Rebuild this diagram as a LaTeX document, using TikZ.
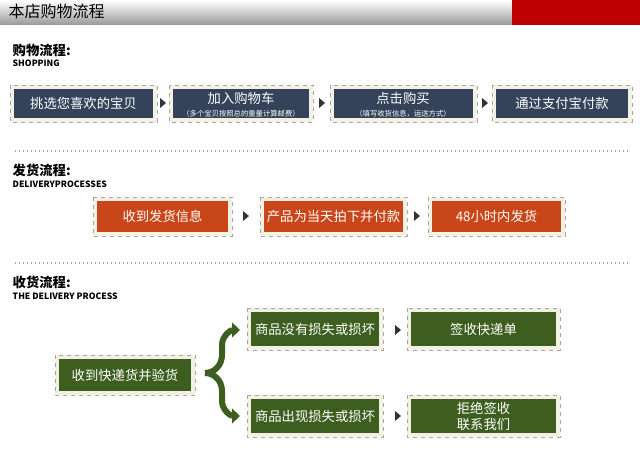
\documentclass[tikz,border=0pt]{standalone}
\usepackage{fontspec}
\setmainfont{Noto Sans CJK SC}
\usetikzlibrary{arrows.meta,calc}
\definecolor{slate}{HTML}{34435A}
\definecolor{orng}{HTML}{C8461A}
\definecolor{grn}{HTML}{3D5E1E}
\definecolor{frm}{HTML}{F3F1E4}
\tikzset{
 outer/.style={fill=frm,draw=gray!70,dashed,line width=0.6pt},
 tri/.style={fill=black!80,draw=none},
 boxtxt/.style={text=white,align=center,font=\fontsize{10}{12}\selectfont},
 head/.style={anchor=west,font=\fontsize{10}{11}\selectfont\bfseries},
 sub/.style={anchor=west,font=\fontsize{6.5}{8}\selectfont\bfseries},
}
\newcommand{\stepb}[7]{% name x1 y1 x2 y2 color text
 \fill[outer] (#2,#3) rectangle (#4,#5);
 \fill[#6] ($(#2,#3)+(4,4)$) rectangle ($(#4,#5)+(-4,-4)$);
 \node[boxtxt] (#1) at ($(#2,#3)!0.5!(#4,#5)$) {#7};}
\newcommand{\arr}[2]{\fill[tri] (#1-3,#2-5) -- (#1+3,#2) -- (#1-3,#2+5) -- cycle;}
\begin{document}
\begin{tikzpicture}[x=0.75pt,y=-0.75pt]
\useasboundingbox (0,0) rectangle (640,460);
\fill[white] (0,0) rectangle (640,460);
\shade[top color=white,bottom color=gray!80] (0,0) rectangle (512,25);
\fill[red!75!black] (512,0) rectangle (640,25);
\node[anchor=west,font=\fontsize{12}{14}\selectfont] (title) at (4,11) {本店购物流程};
% section 1
\node[head] (h1) at (8,50) {购物流程:};
\node[sub] (s1) at (8,63) {SHOPPING};
\stepb{a1}{10}{85}{157}{122}{slate}{挑选您喜欢的宝贝}
\stepb{a2}{169}{85}{313}{122}{slate}{}
\node[boxtxt] at (241,98) {加入购物车};
\node[boxtxt,font=\fontsize{5.5}{6}\selectfont] at (241,114) {（多个宝贝按照总的重量计算邮费）};
\stepb{a3}{330}{85}{477}{122}{slate}{}
\node[boxtxt] at (403,98) {点击购买};
\node[boxtxt,font=\fontsize{5.5}{6}\selectfont] at (403,114) {（填写收货信息，运送方式）};
\stepb{a4}{492}{85}{632}{122}{slate}{通过支付宝付款}
\arr{163}{103}\arr{322}{103}\arr{485}{103}
\draw[gray!70,dotted,line width=1pt] (15,151) -- (628,151);
% section 2
\node[head] (h2) at (8,170) {发货流程:};
\node[sub] (s2) at (8,184) {DELIVERYPROCESSES};
\stepb{b1}{93}{197}{232}{236}{orng}{收到发货信息}
\stepb{b2}{260}{197}{407}{236}{orng}{产品为当天拍下并付款}
\stepb{b3}{428}{197}{565}{236}{orng}{48小时内发货}
\arr{246}{216}\arr{417}{216}
\draw[gray!70,dotted,line width=1pt] (15,263) -- (628,263);
% section 3
\node[head] (h3) at (8,282) {收货流程:};
\node[sub] (s3) at (8,296) {THE DELIVERY PROCESS};
\stepb{c0}{55}{355}{195}{395}{grn}{收到快递货并验货}
\stepb{c1}{247}{308}{383}{350}{grn}{商品没有损失或损坏}
\stepb{c2}{407}{308}{560}{350}{grn}{签收快递单}
\stepb{c3}{247}{395}{383}{437}{grn}{商品出现损失或损坏}
\stepb{c4}{407}{395}{560}{437}{grn}{拒绝签收\\联系我们}
\arr{398}{330}\arr{398}{416}
\coordinate (bt) at (205,373);
\draw[grn,line width=4.5pt,-{Triangle[length=6pt,width=11pt]}] (bt) to[out=0,in=-90] (222,355) -- (222,345) to[out=90,in=180] (240,330);
\draw[grn,line width=4.5pt,-{Triangle[length=6pt,width=11pt]}] (bt) to[out=0,in=90] (222,391) -- (222,401) to[out=-90,in=180] (240,416);
\end{tikzpicture}
\end{document}
